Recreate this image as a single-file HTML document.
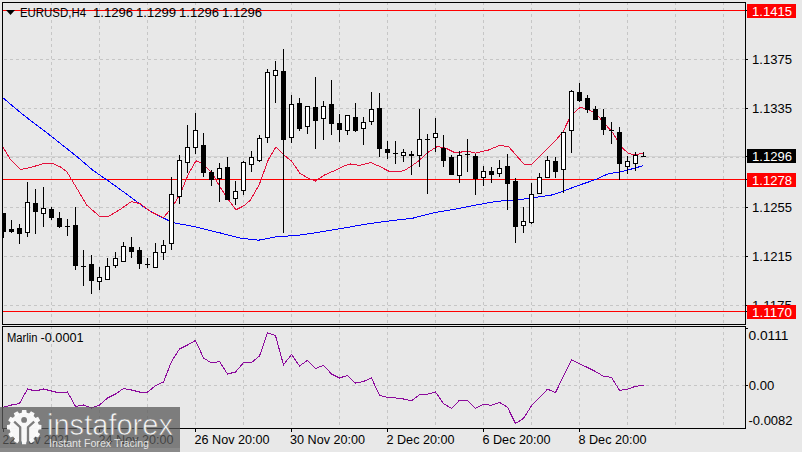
<!DOCTYPE html><html><head><meta charset="utf-8"><style>html,body{margin:0;padding:0;background:#e8e8e8;width:802px;height:452px;overflow:hidden}svg{display:block}text{font-family:"Liberation Sans", sans-serif}</style></head><body>
<svg width="802" height="452" viewBox="0 0 802 452">
<rect x="0" y="0" width="802" height="452" fill="#e8e8e8"/>
<defs><clipPath id="cm"><rect x="3" y="3" width="742" height="321"/></clipPath><clipPath id="cs"><rect x="3" y="327" width="742" height="101"/></clipPath></defs>
<g clip-path="url(#cm)" shape-rendering="crispEdges">
<line x1="3" y1="59.5" x2="745" y2="59.5" stroke="#c6c6c6" stroke-width="1" stroke-dasharray="3 3" stroke-dashoffset="5"/>
<line x1="3" y1="108.5" x2="745" y2="108.5" stroke="#c6c6c6" stroke-width="1" stroke-dasharray="3 3" stroke-dashoffset="5"/>
<line x1="3" y1="157.5" x2="745" y2="157.5" stroke="#c6c6c6" stroke-width="1" stroke-dasharray="3 3" stroke-dashoffset="5"/>
<line x1="3" y1="207.5" x2="745" y2="207.5" stroke="#c6c6c6" stroke-width="1" stroke-dasharray="3 3" stroke-dashoffset="5"/>
<line x1="3" y1="256.5" x2="745" y2="256.5" stroke="#c6c6c6" stroke-width="1" stroke-dasharray="3 3" stroke-dashoffset="5"/>
<line x1="3" y1="305.5" x2="745" y2="305.5" stroke="#c6c6c6" stroke-width="1" stroke-dasharray="3 3" stroke-dashoffset="5"/>
<line x1="51.5" y1="3" x2="51.5" y2="324" stroke="#c6c6c6" stroke-width="1" stroke-dasharray="3 3" stroke-dashoffset="1"/>
<line x1="99.5" y1="3" x2="99.5" y2="324" stroke="#c6c6c6" stroke-width="1" stroke-dasharray="3 3" stroke-dashoffset="1"/>
<line x1="147.5" y1="3" x2="147.5" y2="324" stroke="#c6c6c6" stroke-width="1" stroke-dasharray="3 3" stroke-dashoffset="1"/>
<line x1="195.5" y1="3" x2="195.5" y2="324" stroke="#c6c6c6" stroke-width="1" stroke-dasharray="3 3" stroke-dashoffset="1"/>
<line x1="243.5" y1="3" x2="243.5" y2="324" stroke="#c6c6c6" stroke-width="1" stroke-dasharray="3 3" stroke-dashoffset="1"/>
<line x1="291.5" y1="3" x2="291.5" y2="324" stroke="#c6c6c6" stroke-width="1" stroke-dasharray="3 3" stroke-dashoffset="1"/>
<line x1="339.5" y1="3" x2="339.5" y2="324" stroke="#c6c6c6" stroke-width="1" stroke-dasharray="3 3" stroke-dashoffset="1"/>
<line x1="387.5" y1="3" x2="387.5" y2="324" stroke="#c6c6c6" stroke-width="1" stroke-dasharray="3 3" stroke-dashoffset="1"/>
<line x1="435.5" y1="3" x2="435.5" y2="324" stroke="#c6c6c6" stroke-width="1" stroke-dasharray="3 3" stroke-dashoffset="1"/>
<line x1="483.5" y1="3" x2="483.5" y2="324" stroke="#c6c6c6" stroke-width="1" stroke-dasharray="3 3" stroke-dashoffset="1"/>
<line x1="531.5" y1="3" x2="531.5" y2="324" stroke="#c6c6c6" stroke-width="1" stroke-dasharray="3 3" stroke-dashoffset="1"/>
<line x1="579.5" y1="3" x2="579.5" y2="324" stroke="#c6c6c6" stroke-width="1" stroke-dasharray="3 3" stroke-dashoffset="1"/>
<line x1="627.5" y1="3" x2="627.5" y2="324" stroke="#c6c6c6" stroke-width="1" stroke-dasharray="3 3" stroke-dashoffset="1"/>
<line x1="675.5" y1="3" x2="675.5" y2="324" stroke="#c6c6c6" stroke-width="1" stroke-dasharray="3 3" stroke-dashoffset="1"/>
<line x1="723.5" y1="3" x2="723.5" y2="324" stroke="#c6c6c6" stroke-width="1" stroke-dasharray="3 3" stroke-dashoffset="1"/>
<line x1="3" y1="156.5" x2="745" y2="156.5" stroke="#d4d4d4" stroke-width="1"/>
<line x1="3" y1="10.5" x2="745" y2="10.5" stroke="#ff0000" stroke-width="1"/>
<line x1="3" y1="179.5" x2="745" y2="179.5" stroke="#ff0000" stroke-width="1"/>
<line x1="3" y1="311.5" x2="745" y2="311.5" stroke="#ff0000" stroke-width="1"/>
</g>
<polyline clip-path="url(#cm)" points="3.2,98.0 22.5,114.3 51.5,136.4 77.9,157.4 92.5,170.0 107.0,180.0 126.9,194.3 144.5,207.6 157.8,215.4 173.3,222.7 193.2,226.4 220.5,233.0 239.5,238.0 258.5,240.2 275.0,237.0 300.5,235.0 322.9,231.6 345.4,227.8 367.8,223.8 390.3,220.8 412.7,218.2 435.1,212.5 457.5,208.7 480.5,204.2 497.5,201.2 517.3,200.0 552.9,194.8 564.0,190.8 577.3,185.8 595.0,179.8 608.2,173.8 621.5,171.6 629.5,169.6 642.8,165.8" fill="none" stroke="#0000ff" stroke-width="1" shape-rendering="crispEdges"/>
<polyline clip-path="url(#cm)" points="3.2,147.5 10.5,159.6 20.5,169.6 33.5,166.7 43.5,163.4 52.5,163.4 61.3,167.4 66.9,171.8 73.8,183.3 87.0,205.4 100.3,217.0 109.2,216.0 120.2,209.4 131.3,201.6 140.1,203.6 151.2,212.0 163.4,217.6 171.1,208.7 180.0,194.3 188.8,173.3 196.0,160.8 203.1,164.0 211.9,173.0 219.5,186.0 227.5,198.5 236.0,209.8 244.1,205.6 250.5,200.0 259.5,184.0 268.3,159.7 275.9,147.0 284.5,155.5 291.5,161.0 299.9,173.3 308.5,178.3 315.5,181.0 324.5,175.0 335.5,170.2 344.8,165.6 350.5,164.0 359.5,165.3 370.8,162.6 379.5,166.4 390.5,172.0 404.0,170.8 417.3,162.0 428.5,152.0 437.2,146.5 446.0,148.2 454.9,152.7 468.2,151.3 475.5,153.2 488.5,150.0 499.5,145.5 508.5,146.6 524.2,164.3 531.9,164.3 541.9,154.3 550.5,145.5 554.3,142.0 563.2,131.5 570.9,115.4 579.8,107.6 587.5,108.7 596.4,114.2 605.2,124.2 613.0,133.0 620.7,146.3 628.5,153.6 636.2,154.7 642.8,153.0" fill="none" stroke="#e4103c" stroke-width="1" shape-rendering="crispEdges"/>
<g clip-path="url(#cm)" shape-rendering="crispEdges">
<rect x="3" y="213" width="1" height="25" fill="#000"/>
<rect x="1" y="213" width="5" height="19" fill="#000"/>
<rect x="11" y="220" width="1" height="13" fill="#000"/>
<rect x="9" y="229" width="5" height="3" fill="#000"/>
<rect x="19" y="224" width="1" height="20" fill="#000"/>
<rect x="17" y="228" width="5" height="6" fill="#000"/>
<rect x="27" y="182" width="1" height="55" fill="#000"/>
<rect x="25" y="202" width="5" height="31" fill="#000"/>
<rect x="26" y="203" width="3" height="29" fill="#fff"/>
<rect x="35" y="189" width="1" height="45" fill="#000"/>
<rect x="33" y="203" width="5" height="9" fill="#000"/>
<rect x="43" y="187" width="1" height="40" fill="#000"/>
<rect x="41" y="208" width="5" height="6" fill="#000"/>
<rect x="42" y="209" width="3" height="4" fill="#fff"/>
<rect x="51" y="207" width="1" height="13" fill="#000"/>
<rect x="49" y="209" width="5" height="9" fill="#000"/>
<rect x="59" y="212" width="1" height="16" fill="#000"/>
<rect x="57" y="218" width="5" height="9" fill="#000"/>
<rect x="67" y="219" width="1" height="17" fill="#000"/>
<rect x="65" y="226" width="5" height="1" fill="#000"/>
<rect x="75" y="207" width="1" height="63" fill="#000"/>
<rect x="73" y="225" width="5" height="41" fill="#000"/>
<rect x="83" y="250" width="1" height="36" fill="#000"/>
<rect x="81" y="266" width="5" height="1" fill="#000"/>
<rect x="91" y="255" width="1" height="39" fill="#000"/>
<rect x="89" y="264" width="5" height="17" fill="#000"/>
<rect x="99" y="267" width="1" height="23" fill="#000"/>
<rect x="97" y="277" width="5" height="5" fill="#000"/>
<rect x="98" y="278" width="3" height="3" fill="#fff"/>
<rect x="107" y="258" width="1" height="22" fill="#000"/>
<rect x="105" y="266" width="5" height="14" fill="#000"/>
<rect x="106" y="267" width="3" height="12" fill="#fff"/>
<rect x="115" y="252" width="1" height="16" fill="#000"/>
<rect x="113" y="258" width="5" height="8" fill="#000"/>
<rect x="114" y="259" width="3" height="6" fill="#fff"/>
<rect x="123" y="242" width="1" height="20" fill="#000"/>
<rect x="121" y="246" width="5" height="16" fill="#000"/>
<rect x="122" y="247" width="3" height="14" fill="#fff"/>
<rect x="131" y="237" width="1" height="21" fill="#000"/>
<rect x="129" y="247" width="5" height="5" fill="#000"/>
<rect x="139" y="247" width="1" height="22" fill="#000"/>
<rect x="137" y="250" width="5" height="14" fill="#000"/>
<rect x="147" y="258" width="1" height="10" fill="#000"/>
<rect x="145" y="264" width="5" height="1" fill="#000"/>
<rect x="155" y="243" width="1" height="25" fill="#000"/>
<rect x="153" y="252" width="5" height="16" fill="#000"/>
<rect x="154" y="253" width="3" height="14" fill="#fff"/>
<rect x="163" y="240" width="1" height="20" fill="#000"/>
<rect x="161" y="245" width="5" height="8" fill="#000"/>
<rect x="162" y="246" width="3" height="6" fill="#fff"/>
<rect x="171" y="177" width="1" height="73" fill="#000"/>
<rect x="169" y="194" width="5" height="50" fill="#000"/>
<rect x="170" y="195" width="3" height="48" fill="#fff"/>
<rect x="179" y="155" width="1" height="49" fill="#000"/>
<rect x="177" y="160" width="5" height="37" fill="#000"/>
<rect x="178" y="161" width="3" height="35" fill="#fff"/>
<rect x="187" y="125" width="1" height="48" fill="#000"/>
<rect x="185" y="147" width="5" height="16" fill="#000"/>
<rect x="186" y="148" width="3" height="14" fill="#fff"/>
<rect x="195" y="113" width="1" height="41" fill="#000"/>
<rect x="193" y="130" width="5" height="18" fill="#000"/>
<rect x="194" y="131" width="3" height="16" fill="#fff"/>
<rect x="203" y="133" width="1" height="44" fill="#000"/>
<rect x="201" y="145" width="5" height="28" fill="#000"/>
<rect x="211" y="170" width="1" height="16" fill="#000"/>
<rect x="209" y="172" width="5" height="8" fill="#000"/>
<rect x="219" y="163" width="1" height="39" fill="#000"/>
<rect x="217" y="168" width="5" height="11" fill="#000"/>
<rect x="218" y="169" width="3" height="9" fill="#fff"/>
<rect x="227" y="157" width="1" height="43" fill="#000"/>
<rect x="225" y="167" width="5" height="33" fill="#000"/>
<rect x="235" y="181" width="1" height="24" fill="#000"/>
<rect x="233" y="191" width="5" height="8" fill="#000"/>
<rect x="234" y="192" width="3" height="6" fill="#fff"/>
<rect x="243" y="161" width="1" height="34" fill="#000"/>
<rect x="241" y="162" width="5" height="29" fill="#000"/>
<rect x="242" y="163" width="3" height="27" fill="#fff"/>
<rect x="251" y="151" width="1" height="21" fill="#000"/>
<rect x="249" y="157" width="5" height="8" fill="#000"/>
<rect x="250" y="158" width="3" height="6" fill="#fff"/>
<rect x="259" y="135" width="1" height="27" fill="#000"/>
<rect x="257" y="138" width="5" height="23" fill="#000"/>
<rect x="258" y="139" width="3" height="21" fill="#fff"/>
<rect x="267" y="69" width="1" height="74" fill="#000"/>
<rect x="265" y="72" width="5" height="66" fill="#000"/>
<rect x="266" y="73" width="3" height="64" fill="#fff"/>
<rect x="275" y="61" width="1" height="42" fill="#000"/>
<rect x="273" y="70" width="5" height="6" fill="#000"/>
<rect x="274" y="71" width="3" height="4" fill="#fff"/>
<rect x="283" y="49" width="1" height="184" fill="#000"/>
<rect x="281" y="71" width="5" height="69" fill="#000"/>
<rect x="291" y="95" width="1" height="48" fill="#000"/>
<rect x="289" y="104" width="5" height="34" fill="#000"/>
<rect x="290" y="105" width="3" height="32" fill="#fff"/>
<rect x="299" y="98" width="1" height="33" fill="#000"/>
<rect x="297" y="103" width="5" height="26" fill="#000"/>
<rect x="307" y="106" width="1" height="28" fill="#000"/>
<rect x="305" y="106" width="5" height="21" fill="#000"/>
<rect x="306" y="107" width="3" height="19" fill="#fff"/>
<rect x="315" y="77" width="1" height="72" fill="#000"/>
<rect x="313" y="107" width="5" height="14" fill="#000"/>
<rect x="323" y="101" width="1" height="39" fill="#000"/>
<rect x="321" y="106" width="5" height="13" fill="#000"/>
<rect x="322" y="107" width="3" height="11" fill="#fff"/>
<rect x="331" y="80" width="1" height="55" fill="#000"/>
<rect x="329" y="104" width="5" height="20" fill="#000"/>
<rect x="339" y="114" width="1" height="28" fill="#000"/>
<rect x="337" y="123" width="5" height="7" fill="#000"/>
<rect x="347" y="115" width="1" height="20" fill="#000"/>
<rect x="345" y="115" width="5" height="16" fill="#000"/>
<rect x="346" y="116" width="3" height="14" fill="#fff"/>
<rect x="355" y="103" width="1" height="29" fill="#000"/>
<rect x="353" y="117" width="5" height="14" fill="#000"/>
<rect x="363" y="117" width="1" height="28" fill="#000"/>
<rect x="361" y="122" width="5" height="7" fill="#000"/>
<rect x="362" y="123" width="3" height="5" fill="#fff"/>
<rect x="371" y="92" width="1" height="33" fill="#000"/>
<rect x="369" y="109" width="5" height="13" fill="#000"/>
<rect x="370" y="110" width="3" height="11" fill="#fff"/>
<rect x="379" y="93" width="1" height="64" fill="#000"/>
<rect x="377" y="108" width="5" height="41" fill="#000"/>
<rect x="387" y="141" width="1" height="18" fill="#000"/>
<rect x="385" y="149" width="5" height="4" fill="#000"/>
<rect x="395" y="141" width="1" height="23" fill="#000"/>
<rect x="393" y="153" width="5" height="1" fill="#000"/>
<rect x="403" y="149" width="1" height="13" fill="#000"/>
<rect x="401" y="152" width="5" height="4" fill="#000"/>
<rect x="402" y="153" width="3" height="2" fill="#fff"/>
<rect x="411" y="151" width="1" height="24" fill="#000"/>
<rect x="409" y="154" width="5" height="2" fill="#000"/>
<rect x="419" y="109" width="1" height="58" fill="#000"/>
<rect x="417" y="139" width="5" height="17" fill="#000"/>
<rect x="418" y="140" width="3" height="15" fill="#fff"/>
<rect x="427" y="134" width="1" height="60" fill="#000"/>
<rect x="425" y="139" width="5" height="1" fill="#000"/>
<rect x="435" y="118" width="1" height="34" fill="#000"/>
<rect x="433" y="133" width="5" height="5" fill="#000"/>
<rect x="434" y="134" width="3" height="3" fill="#fff"/>
<rect x="443" y="135" width="1" height="32" fill="#000"/>
<rect x="441" y="148" width="5" height="13" fill="#000"/>
<rect x="451" y="155" width="1" height="20" fill="#000"/>
<rect x="449" y="157" width="5" height="18" fill="#000"/>
<rect x="459" y="151" width="1" height="32" fill="#000"/>
<rect x="457" y="155" width="5" height="21" fill="#000"/>
<rect x="458" y="156" width="3" height="19" fill="#fff"/>
<rect x="467" y="139" width="1" height="33" fill="#000"/>
<rect x="465" y="154" width="5" height="1" fill="#000"/>
<rect x="475" y="154" width="1" height="41" fill="#000"/>
<rect x="473" y="156" width="5" height="23" fill="#000"/>
<rect x="483" y="166" width="1" height="20" fill="#000"/>
<rect x="481" y="171" width="5" height="7" fill="#000"/>
<rect x="482" y="172" width="3" height="5" fill="#fff"/>
<rect x="491" y="167" width="1" height="16" fill="#000"/>
<rect x="489" y="171" width="5" height="4" fill="#000"/>
<rect x="499" y="160" width="1" height="17" fill="#000"/>
<rect x="497" y="168" width="5" height="6" fill="#000"/>
<rect x="498" y="169" width="3" height="4" fill="#fff"/>
<rect x="507" y="154" width="1" height="56" fill="#000"/>
<rect x="505" y="166" width="5" height="18" fill="#000"/>
<rect x="515" y="178" width="1" height="65" fill="#000"/>
<rect x="513" y="181" width="5" height="46" fill="#000"/>
<rect x="523" y="207" width="1" height="26" fill="#000"/>
<rect x="521" y="221" width="5" height="5" fill="#000"/>
<rect x="522" y="222" width="3" height="3" fill="#fff"/>
<rect x="531" y="183" width="1" height="41" fill="#000"/>
<rect x="529" y="194" width="5" height="29" fill="#000"/>
<rect x="530" y="195" width="3" height="27" fill="#fff"/>
<rect x="539" y="173" width="1" height="21" fill="#000"/>
<rect x="537" y="177" width="5" height="17" fill="#000"/>
<rect x="538" y="178" width="3" height="15" fill="#fff"/>
<rect x="547" y="156" width="1" height="22" fill="#000"/>
<rect x="545" y="160" width="5" height="18" fill="#000"/>
<rect x="546" y="161" width="3" height="16" fill="#fff"/>
<rect x="555" y="157" width="1" height="21" fill="#000"/>
<rect x="553" y="161" width="5" height="11" fill="#000"/>
<rect x="563" y="132" width="1" height="61" fill="#000"/>
<rect x="561" y="132" width="5" height="38" fill="#000"/>
<rect x="562" y="133" width="3" height="36" fill="#fff"/>
<rect x="571" y="90" width="1" height="63" fill="#000"/>
<rect x="569" y="91" width="5" height="40" fill="#000"/>
<rect x="570" y="92" width="3" height="38" fill="#fff"/>
<rect x="579" y="83" width="1" height="19" fill="#000"/>
<rect x="577" y="92" width="5" height="9" fill="#000"/>
<rect x="587" y="95" width="1" height="18" fill="#000"/>
<rect x="585" y="98" width="5" height="12" fill="#000"/>
<rect x="595" y="106" width="1" height="14" fill="#000"/>
<rect x="593" y="109" width="5" height="11" fill="#000"/>
<rect x="603" y="109" width="1" height="26" fill="#000"/>
<rect x="601" y="117" width="5" height="13" fill="#000"/>
<rect x="611" y="122" width="1" height="22" fill="#000"/>
<rect x="609" y="130" width="5" height="1" fill="#000"/>
<rect x="619" y="127" width="1" height="53" fill="#000"/>
<rect x="617" y="132" width="5" height="32" fill="#000"/>
<rect x="627" y="156" width="1" height="18" fill="#000"/>
<rect x="625" y="161" width="5" height="6" fill="#000"/>
<rect x="626" y="162" width="3" height="4" fill="#fff"/>
<rect x="635" y="152" width="1" height="19" fill="#000"/>
<rect x="633" y="155" width="5" height="9" fill="#000"/>
<rect x="634" y="156" width="3" height="7" fill="#fff"/>
<rect x="643" y="152" width="1" height="5" fill="#000"/>
<rect x="641" y="156" width="5" height="1" fill="#000"/>
</g>
<g clip-path="url(#cs)" shape-rendering="crispEdges">
<line x1="3" y1="385.5" x2="745" y2="385.5" stroke="#c6c6c6" stroke-width="1" stroke-dasharray="3 3" stroke-dashoffset="5"/>
<line x1="51.5" y1="327" x2="51.5" y2="428" stroke="#c6c6c6" stroke-width="1" stroke-dasharray="3 3" stroke-dashoffset="1"/>
<line x1="99.5" y1="327" x2="99.5" y2="428" stroke="#c6c6c6" stroke-width="1" stroke-dasharray="3 3" stroke-dashoffset="1"/>
<line x1="147.5" y1="327" x2="147.5" y2="428" stroke="#c6c6c6" stroke-width="1" stroke-dasharray="3 3" stroke-dashoffset="1"/>
<line x1="195.5" y1="327" x2="195.5" y2="428" stroke="#c6c6c6" stroke-width="1" stroke-dasharray="3 3" stroke-dashoffset="1"/>
<line x1="243.5" y1="327" x2="243.5" y2="428" stroke="#c6c6c6" stroke-width="1" stroke-dasharray="3 3" stroke-dashoffset="1"/>
<line x1="291.5" y1="327" x2="291.5" y2="428" stroke="#c6c6c6" stroke-width="1" stroke-dasharray="3 3" stroke-dashoffset="1"/>
<line x1="339.5" y1="327" x2="339.5" y2="428" stroke="#c6c6c6" stroke-width="1" stroke-dasharray="3 3" stroke-dashoffset="1"/>
<line x1="387.5" y1="327" x2="387.5" y2="428" stroke="#c6c6c6" stroke-width="1" stroke-dasharray="3 3" stroke-dashoffset="1"/>
<line x1="435.5" y1="327" x2="435.5" y2="428" stroke="#c6c6c6" stroke-width="1" stroke-dasharray="3 3" stroke-dashoffset="1"/>
<line x1="483.5" y1="327" x2="483.5" y2="428" stroke="#c6c6c6" stroke-width="1" stroke-dasharray="3 3" stroke-dashoffset="1"/>
<line x1="531.5" y1="327" x2="531.5" y2="428" stroke="#c6c6c6" stroke-width="1" stroke-dasharray="3 3" stroke-dashoffset="1"/>
<line x1="579.5" y1="327" x2="579.5" y2="428" stroke="#c6c6c6" stroke-width="1" stroke-dasharray="3 3" stroke-dashoffset="1"/>
<line x1="627.5" y1="327" x2="627.5" y2="428" stroke="#c6c6c6" stroke-width="1" stroke-dasharray="3 3" stroke-dashoffset="1"/>
<line x1="675.5" y1="327" x2="675.5" y2="428" stroke="#c6c6c6" stroke-width="1" stroke-dasharray="3 3" stroke-dashoffset="1"/>
<line x1="723.5" y1="327" x2="723.5" y2="428" stroke="#c6c6c6" stroke-width="1" stroke-dasharray="3 3" stroke-dashoffset="1"/>
</g>
<polyline clip-path="url(#cs)" points="3.2,407.3 11.5,405.0 19.5,403.5 27.5,389.0 35.5,391.0 43.5,389.0 51.5,391.0 59.5,393.0 67.5,392.0 75.5,406.5 83.5,405.0 91.5,408.0 99.5,405.0 107.5,398.0 115.5,394.0 123.5,388.5 131.5,390.0 139.5,392.0 147.5,392.0 155.5,385.8 163.5,382.0 171.5,361.5 179.5,349.0 187.5,345.0 195.5,340.5 203.5,358.0 211.5,363.0 219.5,361.5 227.5,374.0 235.5,372.0 243.5,362.6 251.5,362.6 259.5,356.0 267.5,332.7 275.5,335.6 283.5,365.0 291.5,354.4 299.5,366.0 307.5,360.4 315.5,368.6 323.5,365.3 331.5,374.0 339.5,378.0 347.5,375.4 355.5,383.2 363.5,381.4 371.5,378.0 379.5,395.4 387.5,397.3 395.5,398.0 403.5,399.0 411.5,400.7 419.5,394.7 427.5,394.2 435.5,392.0 443.5,403.5 451.5,408.4 459.5,400.2 467.5,400.2 475.5,408.4 483.5,404.2 491.5,405.3 499.5,402.4 507.5,407.3 515.5,423.5 523.5,418.4 531.5,405.8 539.5,397.6 547.5,389.2 555.5,392.5 571.5,360.0 579.5,363.7 587.5,367.5 595.5,371.5 603.5,376.3 611.5,377.4 619.5,390.3 627.5,389.2 635.5,386.3 643.5,385.2" fill="none" stroke="#8c0a9c" stroke-width="1" shape-rendering="crispEdges"/>
<g shape-rendering="crispEdges" fill="none" stroke="#000" stroke-width="1">
<rect x="2.5" y="2.5" width="743" height="322"/>
<rect x="2.5" y="326.5" width="743" height="102"/>
</g>
<g shape-rendering="crispEdges" fill="#000">
<rect x="746" y="10" width="2" height="1"/>
<rect x="746" y="59" width="2" height="1"/>
<rect x="746" y="108" width="2" height="1"/>
<rect x="746" y="156" width="2" height="1"/>
<rect x="746" y="179" width="2" height="1"/>
<rect x="746" y="207" width="2" height="1"/>
<rect x="746" y="256" width="2" height="1"/>
<rect x="746" y="305" width="2" height="1"/>
<rect x="746" y="311" width="2" height="1"/>
<rect x="746" y="328" width="2" height="1"/>
<rect x="746" y="385" width="2" height="1"/>
<rect x="3" y="429" width="1" height="3"/>
<rect x="99" y="429" width="1" height="3"/>
<rect x="195" y="429" width="1" height="3"/>
<rect x="291" y="429" width="1" height="3"/>
<rect x="387" y="429" width="1" height="3"/>
<rect x="483" y="429" width="1" height="3"/>
<rect x="579" y="429" width="1" height="3"/>
</g>
<path d="M6 10 L15 10 L10.5 15 Z" fill="#000"/>
<text x="20.0" y="17.0" font-size="12.0" fill="#000000" textLength="66.0" lengthAdjust="spacingAndGlyphs" text-anchor="start" >EURUSD,H4</text>
<text x="93.0" y="17.0" font-size="12.0" fill="#000000" textLength="40.0" lengthAdjust="spacingAndGlyphs" text-anchor="start" >1.1296</text>
<text x="136.0" y="17.0" font-size="12.0" fill="#000000" textLength="40.0" lengthAdjust="spacingAndGlyphs" text-anchor="start" >1.1299</text>
<text x="179.0" y="17.0" font-size="12.0" fill="#000000" textLength="40.0" lengthAdjust="spacingAndGlyphs" text-anchor="start" >1.1296</text>
<text x="222.0" y="17.0" font-size="12.0" fill="#000000" textLength="40.0" lengthAdjust="spacingAndGlyphs" text-anchor="start" >1.1296</text>
<text x="752.0" y="64.0" font-size="12.0" fill="#000000" textLength="40.0" lengthAdjust="spacingAndGlyphs" text-anchor="start" >1.1375</text>
<text x="752.0" y="113.0" font-size="12.0" fill="#000000" textLength="40.0" lengthAdjust="spacingAndGlyphs" text-anchor="start" >1.1335</text>
<text x="752.0" y="212.0" font-size="12.0" fill="#000000" textLength="40.0" lengthAdjust="spacingAndGlyphs" text-anchor="start" >1.1255</text>
<text x="752.0" y="261.0" font-size="12.0" fill="#000000" textLength="40.0" lengthAdjust="spacingAndGlyphs" text-anchor="start" >1.1215</text>
<text x="752.0" y="310.0" font-size="12.0" fill="#000000" textLength="40.0" lengthAdjust="spacingAndGlyphs" text-anchor="start" >1.1175</text>
<rect x="747" y="4" width="49" height="14" fill="#ff0000" shape-rendering="crispEdges"/>
<text x="752.0" y="16.0" font-size="12.0" fill="#fff" textLength="40.0" lengthAdjust="spacingAndGlyphs" text-anchor="start" >1.1415</text>
<rect x="747" y="149" width="49" height="14" fill="#000" shape-rendering="crispEdges"/>
<text x="752.0" y="161.0" font-size="12.0" fill="#fff" textLength="40.0" lengthAdjust="spacingAndGlyphs" text-anchor="start" >1.1296</text>
<rect x="747" y="173" width="49" height="14" fill="#ff0000" shape-rendering="crispEdges"/>
<text x="752.0" y="185.0" font-size="12.0" fill="#fff" textLength="40.0" lengthAdjust="spacingAndGlyphs" text-anchor="start" >1.1278</text>
<rect x="747" y="305" width="49" height="14" fill="#ff0000" shape-rendering="crispEdges"/>
<text x="752.0" y="317.0" font-size="12.0" fill="#fff" textLength="40.0" lengthAdjust="spacingAndGlyphs" text-anchor="start" >1.1170</text>
<text x="7.0" y="342.0" font-size="12.0" fill="#000000" textLength="30.5" lengthAdjust="spacingAndGlyphs" text-anchor="start" >Marlin</text>
<text x="40.5" y="342.0" font-size="12.0" fill="#000000" textLength="43.2" lengthAdjust="spacingAndGlyphs" text-anchor="start" >-0.0001</text>
<text x="748.5" y="340.0" font-size="12.0" fill="#000000" textLength="40.0" lengthAdjust="spacingAndGlyphs" text-anchor="start" >0.0111</text>
<text x="748.8" y="390.0" font-size="12.0" fill="#000000" textLength="25.5" lengthAdjust="spacingAndGlyphs" text-anchor="start" >0.00</text>
<text x="748.5" y="425.0" font-size="12.0" fill="#000000" textLength="44.0" lengthAdjust="spacingAndGlyphs" text-anchor="start" >-0.0082</text>
<text x="2.5" y="444.0" font-size="12.0" fill="#000000" textLength="68.0" lengthAdjust="spacingAndGlyphs" text-anchor="start" >22 Nov 2021</text>
<text x="98.5" y="444.0" font-size="12.0" fill="#000000" textLength="75.0" lengthAdjust="spacingAndGlyphs" text-anchor="start" >24 Nov 20:00</text>
<text x="194.5" y="444.0" font-size="12.0" fill="#000000" textLength="75.0" lengthAdjust="spacingAndGlyphs" text-anchor="start" >26 Nov 20:00</text>
<text x="290.0" y="444.0" font-size="12.0" fill="#000000" textLength="75.0" lengthAdjust="spacingAndGlyphs" text-anchor="start" >30 Nov 20:00</text>
<text x="386.5" y="444.0" font-size="12.0" fill="#000000" textLength="68.0" lengthAdjust="spacingAndGlyphs" text-anchor="start" >2 Dec 20:00</text>
<text x="482.5" y="444.0" font-size="12.0" fill="#000000" textLength="68.0" lengthAdjust="spacingAndGlyphs" text-anchor="start" >6 Dec 20:00</text>
<text x="578.5" y="444.0" font-size="12.0" fill="#000000" textLength="68.0" lengthAdjust="spacingAndGlyphs" text-anchor="start" >8 Dec 20:00</text>
<rect x="0" y="407" width="180" height="41" fill="#5a5a5a" fill-opacity="0.75"/>
<rect x="0" y="448" width="180" height="4" fill="#8a8a8a"/>
<clipPath id="gc"><rect x="0" y="405" width="60" height="39.6"/></clipPath>
<g fill="#ffffff" fill-opacity="0.94" clip-path="url(#gc)">
<path d="M24.20 412.60 a14.60 14.60 0 1 0 0.01 0 Z"/>
<polygon points="21.60,413.60 22.10,410.00 26.30,410.00 26.80,413.60"/><polygon points="28.75,414.12 30.98,411.25 34.62,413.35 33.25,416.72"/><polygon points="34.68,418.15 38.05,416.78 40.15,420.42 37.28,422.65"/><polygon points="37.80,424.60 41.40,425.10 41.40,429.30 37.80,429.80"/><polygon points="37.28,431.75 40.15,433.98 38.05,437.62 34.68,436.25"/><polygon points="33.25,437.68 34.62,441.05 30.98,443.15 28.75,440.28"/><polygon points="26.80,440.80 26.30,444.40 22.10,444.40 21.60,440.80"/><polygon points="19.65,440.28 17.42,443.15 13.78,441.05 15.15,437.68"/><polygon points="13.72,436.25 10.35,437.62 8.25,433.98 11.12,431.75"/><polygon points="10.60,429.80 7.00,429.30 7.00,425.10 10.60,424.60"/><polygon points="11.12,422.65 8.25,420.42 10.35,416.78 13.72,418.15"/><polygon points="15.15,416.72 13.78,413.35 17.42,411.25 19.65,414.12"/>
</g>
<g fill="none" stroke="#7c7c7c" stroke-width="2.3" clip-path="url(#gc)">
<polyline points="14.2,421.6 20.2,427.2 20.2,446"/>
<polyline points="34.2,421.6 28.0,427.2 28.0,446"/>
</g>
<circle cx="24.1" cy="419.9" r="2.9" fill="#7c7c7c"/>
<text x="47.0" y="435.0" font-size="29.0" fill="#ffffff" textLength="126.0" lengthAdjust="spacingAndGlyphs" text-anchor="start" fill-opacity="0.95" stroke="#808080" stroke-width="0.7">instaforex</text>
<text x="49.0" y="447.0" font-size="11.0" fill="#ffffff" textLength="100.0" lengthAdjust="spacingAndGlyphs" text-anchor="start" fill-opacity="0.8">Instant Forex Tracing</text>
</svg></body></html>
